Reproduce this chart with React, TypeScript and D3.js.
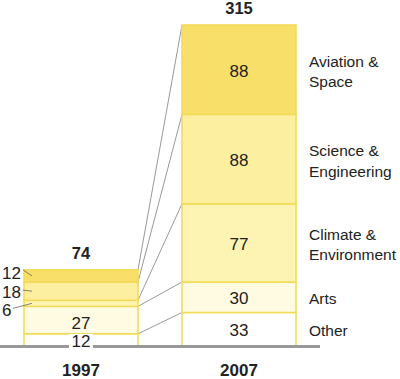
import React from "react";
import * as d3 from "d3";

const categories = ["Other", "Arts", "Climate & Environment", "Science & Engineering", "Aviation & Space"];
const years = ["1997", "2007"];
const values1997 = [12, 27, 6, 18, 12];
const values2007 = [33, 30, 77, 88, 88];
const totals = [74, 315];
const colors = ["#ffffff", "#fffbe3", "#fdf3b2", "#fdefa0", "#f8df6a"];

const W = 400;
const H = 379;
const FONT = "'Liberation Sans', Arial, Helvetica, sans-serif";

export default function App() {
  const x = d3.scaleBand().domain(years).range([24, 296]).paddingInner(0.2785).paddingOuter(0);
  const y = d3.scaleLinear().domain([0, 315]).range([346, 26]);
  const cum = {
    "1997": Array.from(d3.cumsum(values1997)),
    "2007": Array.from(d3.cumsum(values2007)),
  } as Record<string, number[]>;
  const bw = x.bandwidth();
  const x97 = x("1997")!;
  const x07 = x("2007")!;

  const segs = years.flatMap((yr) => {
    const vals = yr === "1997" ? values1997 : values2007;
    return vals.map((v, i) => ({ yr, i, v, y0: cum[yr][i] - v, y1: cum[yr][i] }));
  });

  const leftLabelOffsets: Record<number, { ty: number; lx0: number; ly0: number }> = {
    2: { ty: 13, lx0: 13, ly0: 5 },
    3: { ty: 7, lx0: 23, ly0: -1 },
    4: { ty: 3, lx0: 23, ly0: -6 },
  };

  return (
    <svg width={W} height={H} style={{ position: "absolute", left: 0, top: 0, background: "#fff" }} fontFamily={FONT}>
      {categories.map((c, i) => (
        <line
          key={"c" + i}
          x1={x97 + bw}
          y1={y(cum["1997"][i])}
          x2={x07}
          y2={y(cum["2007"][i])}
          stroke="#999"
          strokeWidth={1}
        />
      ))}
      {segs.map((s) => (
        <rect
          key={s.yr + s.i}
          x={x(s.yr)!}
          y={y(s.y1)}
          width={bw}
          height={y(s.y0) - y(s.y1)}
          fill={colors[s.i]}
          stroke="#f2da55"
          strokeWidth={1.5}
        />
      ))}
      <line x1={0} x2={320} y1={y(0) + 0.5} y2={y(0) + 0.5} stroke="#999" strokeWidth={3} />
      {values2007.map((v, i) => {
        const cy = (y(cum["2007"][i] - v) + y(cum["2007"][i])) / 2;
        return (
          <text key={"v07" + i} x={x07 + bw / 2} y={cy + 7} textAnchor="middle" fontSize={17} fill="#222">
            {v}
          </text>
        );
      })}
      {categories.map((c, i) => {
        const v = values2007[i];
        const cy = (y(cum["2007"][i] - v) + y(cum["2007"][i])) / 2;
        const parts = c.includes("&") ? [c.split("& ")[0] + "&", c.split("& ")[1]] : [c];
        return (
          <text key={"l" + i} x={309} fontSize={15.5} fill="#222">
            {parts.length === 2 ? (
              <>
                <tspan x={309} y={cy - 3}>{parts[0]}</tspan>
                <tspan x={309} y={cy + 17.5}>{parts[1]}</tspan>
              </>
            ) : (
              <tspan x={309} y={cy + 6.5}>{parts[0]}</tspan>
            )}
          </text>
        );
      })}
      {values1997.map((v, i) => {
        const top = y(cum["1997"][i]);
        const bot = y(cum["1997"][i] - v);
        const cy = (top + bot) / 2;
        if (i === 0) {
          return (
            <g key={"v97" + i}>
              <rect x={x97 + bw / 2 - 12} y={bot - 12} width={24} height={16} fill="#fff" />
              <text x={x97 + bw / 2} y={bot + 1} textAnchor="middle" fontSize={17} fill="#222">{v}</text>
            </g>
          );
        }
        if (i === 1) {
          return (
            <text key={"v97" + i} x={x97 + bw / 2} y={top + 23} textAnchor="middle" fontSize={17} fill="#222">{v}</text>
          );
        }
        const o = leftLabelOffsets[i];
        return (
          <g key={"v97" + i}>
            <text x={2} y={cy + o.ty} fontSize={17} fill="#222">{v}</text>
            <line x1={o.lx0} y1={cy + o.ly0} x2={x97 + 8} y2={cy} stroke="#666" strokeWidth={0.8} />
          </g>
        );
      })}
      {years.map((yr, j) => (
        <text key={"t" + yr} x={x(yr)! + bw / 2} y={y(totals[j]) - 12} textAnchor="middle" fontSize={16.5} fontWeight="bold" fill="#222">
          {totals[j]}
        </text>
      ))}
      {years.map((yr) => (
        <text key={"y" + yr} x={x(yr)! + bw / 2} y={376} textAnchor="middle" fontSize={17} fontWeight="bold" fill="#222">
          {yr}
        </text>
      ))}
    </svg>
  );
}
